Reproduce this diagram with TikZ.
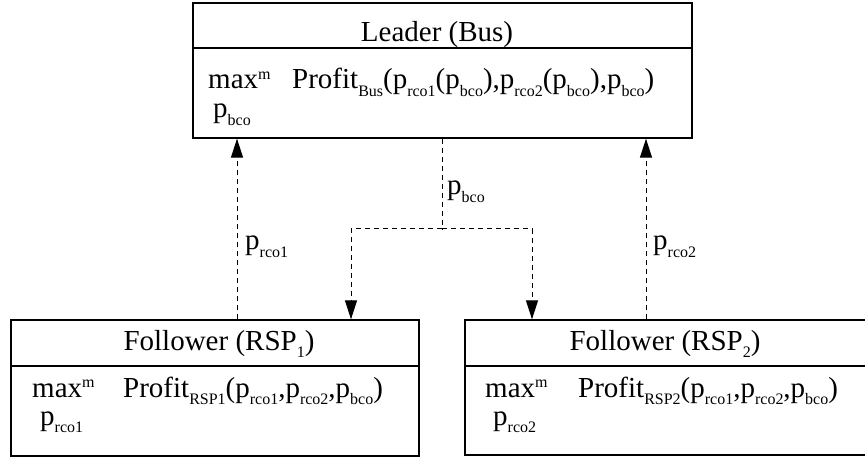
\documentclass[tikz,border=0pt]{standalone}
\usepackage{fontspec}
\setmainfont{Liberation Serif}
\usetikzlibrary{arrows.meta}
\newcommand\lo[1]{\raisebox{-0.25em}{\fontsize{16}{16}\selectfont #1}}
\newcommand\hi[1]{\raisebox{0.32em}{\fontsize{16}{16}\selectfont #1}}
\begin{document}
\begin{tikzpicture}[x=1pt,y=-1pt,
  box/.style={draw,line width=1.3pt,rectangle,inner sep=0pt},
  txt/.style={inner sep=0pt,font=\fontsize{29}{33}\selectfont},
  flow/.style={line width=1pt,dash pattern=on 5pt off 4pt,-{Triangle[width=12pt,length=19pt]}},
  flowline/.style={line width=1pt,dash pattern=on 5pt off 4pt}]
\clip (0,0) rectangle (865,457);
\useasboundingbox (0,0) rectangle (865,457);
% boxes
\node[box,minimum width=499pt,minimum height=135pt] (lead) at (442.5,70.5) {};
\node[box,minimum width=408pt,minimum height=136pt] (f1) at (215,388) {};
\node[box,minimum width=420pt,minimum height=135pt] (f2) at (675,387.5) {};
\draw[line width=1.3pt] (lead.west |- 0,48) coordinate (lh1) -- (lead.east |- 0,48) coordinate (lh2);
\draw[line width=1.3pt] (f1.west |- 0,366) coordinate (fa1) -- (f1.east |- 0,366) coordinate (fa2);
\draw[line width=1.3pt] (f2.west |- 0,366) coordinate (fb1) -- (f2.east |- 0,366) coordinate (fb2);
% titles
\node[txt,anchor=base] (lt) at (437,42) {Leader (Bus)};
\node[txt,anchor=base] (f1t) at (219,350) {Follower (RSP\lo{1})};
\node[txt,anchor=base] (f2t) at (665,350) {Follower (RSP\lo{2})};
% bodies
\node[txt,anchor=base west] (lm) at (208,89) {max\hi{m}};
\node[txt,anchor=base west] (lp) at (292,89) {Profit\lo{Bus}(p\lo{rco1}(p\lo{bco}),p\lo{rco2}(p\lo{bco}),p\lo{bco})};
\node[txt,anchor=base west] (lv) at (213,118) {p\lo{bco}};
\node[txt,anchor=base west] (am) at (32,397) {max\hi{m}};
\node[txt,anchor=base west] (ap) at (123,397) {Profit\lo{RSP1}(p\lo{rco1},p\lo{rco2},p\lo{bco})};
\node[txt,anchor=base west] (av) at (40,425) {p\lo{rco1}};
\node[txt,anchor=base west] (bm) at (485,397) {max\hi{m}};
\node[txt,anchor=base west] (bp) at (578,397) {Profit\lo{RSP2}(p\lo{rco1},p\lo{rco2},p\lo{bco})};
\node[txt,anchor=base west] (bv) at (493,425) {p\lo{rco2}};
% connectors
\coordinate (br) at (442,229);
\draw[flowline] (lead.south -| br) -- (br);
\draw[flow] (br) -| (f1.north -| 351,0);
\draw[flow] (br) -| (f2.north -| 532,0);
\draw[flow] (f1.north -| 237,0) -- (lead.south -| 237,0);
\draw[flow] (f2.north -| 646,0) -- (lead.south -| 646,0);
% labels
\node[txt,anchor=base west] (lb) at (447,195) {p\lo{bco}};
\node[txt,anchor=base west] (l1) at (245,250) {p\lo{rco1}};
\node[txt,anchor=base west] (l2) at (653,250) {p\lo{rco2}};
\end{tikzpicture}
\end{document}
